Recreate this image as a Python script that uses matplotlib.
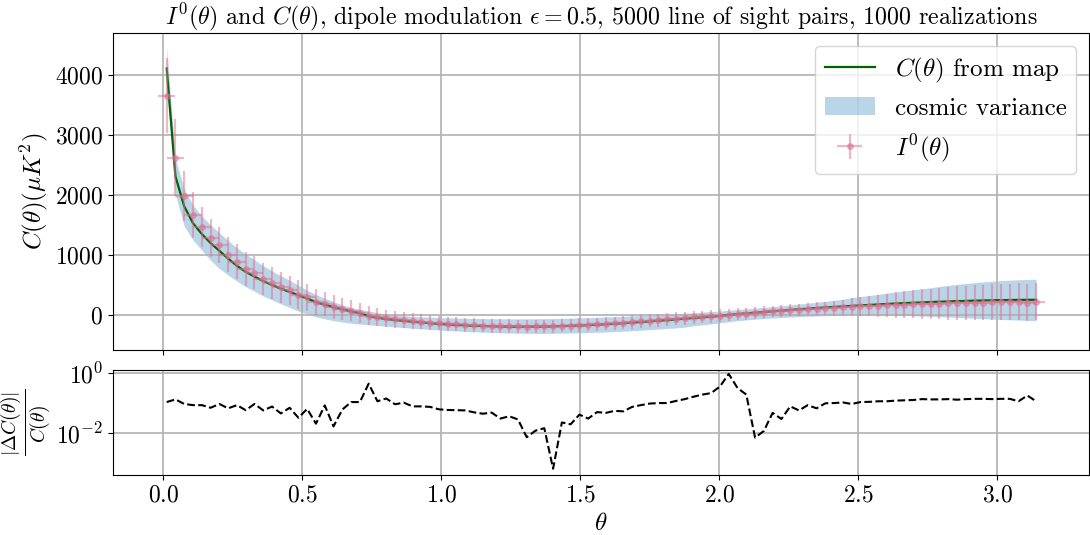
import numpy as np
import matplotlib
matplotlib.use("Agg")
import matplotlib.pyplot as plt
from matplotlib.ticker import NullLocator

plt.rcParams["font.family"] = "serif"
plt.rcParams["font.serif"] = ["cmr10"]
plt.rcParams["mathtext.fontset"] = "cm"
plt.rcParams["axes.formatter.use_mathtext"] = True

# angular bins (rad)
theta = np.linspace(0.012, 3.14, 100)

# C(theta) from map
c_map = [4110, 2310, 1810, 1530, 1350, 1200, 1070, 940, 820, 720,
         640, 565, 500, 440, 385, 330, 275, 215, 170, 130,
         95, 60, 30, -20, -45, -65, -82, -97, -111, -124,
         -136, -147, -157, -165, -172, -178, -183, -187, -190, -192,
         -194, -194, -193, -191, -188, -184, -180, -174, -168, -161,
         -153, -145, -136, -126, -116, -105, -94, -83, -72, -60,
         -49, -38, -27, -14, 2, 15, 27, 39, 50, 62,
         73, 84, 95, 105, 115, 125, 134, 143, 152, 160,
         168, 176, 184, 191, 198, 204, 210, 216, 221, 226,
         231, 235, 239, 242, 245, 248, 250, 252, 253, 253]

# I^0(theta) estimator, mean and spread over realizations
i0_mean = [3658, 2622, 1982, 1663, 1467, 1285, 1172, 1004, 891, 762,
           701, 598, 539, 460, 412, 341, 293, 220, 184, 132,
           101, 67, 33, -11, -40, -56, -74, -87, -102, -114,
           -126, -138, -148, -155, -162, -169, -175, -178, -184, -185,
           -188, -192.6, -190.6, -188.2, -187.9, -179.8, -176.4, -166.7, -162.8, -152.8,
           -145.7, -136.9, -128.7, -116.4, -105.9, -94.7, -84.4, -74.5, -63.4, -51.7,
           -40.9, -30.6, -21.1, -8.9, 0.09, 10.1, 21.7, 38.7, 49.4, 59.0,
           70.8, 77.4, 89.5, 95.9, 107.2, 112.5, 120.3, 127.7, 137.6, 142.4,
           149.2, 155.4, 162.5, 167.5, 173.1, 177.7, 181.0, 186.8, 191.2, 194.8,
           200.5, 202.6, 205.3, 207.9, 211.2, 213.0, 214.8, 222.5, 207.0, 223.4]
i0_err = [620, 640, 420, 380, 340, 310, 300, 290, 285, 280,
          275, 270, 265, 255, 245, 235, 225, 215, 205, 195,
          185, 175, 165, 158, 150, 144, 138, 133, 128, 124,
          120, 118, 117, 116, 115, 115, 114, 114, 113, 113,
          112, 112, 112, 112, 111, 111, 111, 111, 110, 110,
          110, 110, 110, 110, 110, 109, 109, 108, 108, 107,
          106, 105, 104, 103, 102, 101, 100, 99, 98, 97,
          97, 98, 100, 103, 107, 112, 120, 130, 142, 155,
          168, 182, 196, 210, 223, 235, 246, 255, 263, 271,
          278, 284, 289, 294, 298, 301, 303, 304, 305, 305]
theta_err = 0.0316

# cosmic variance band
cv_hi = [4450, 2600, 2100, 1830, 1650, 1500, 1370, 1240, 1120, 1015,
         920, 820, 735, 655, 580, 495, 415, 340, 280, 222,
         170, 125, 95, 68, 40, 18, 0, -12, -22, -30,
         -36, -42, -47, -51, -55, -58, -60, -62, -63, -64,
         -64, -63, -62, -60, -58, -55, -52, -48, -44, -39,
         -34, -28, -22, -15, -8, 0, 7, 15, 23, 31,
         40, 49, 58, 67, 80, 92, 104, 116, 128, 141,
         155, 168, 182, 197, 212, 228, 245, 262, 290, 308,
         325, 345, 365, 384, 402, 420, 437, 455, 478, 495,
         510, 525, 540, 552, 563, 573, 581, 588, 593, 597]
cv_lo = [3800, 2000, 1480, 1250, 1080, 910, 775, 665, 565, 470,
         395, 315, 250, 185, 125, 65, 15, -30, -65, -94,
         -118, -138, -152, -165, -175, -187, -198, -210, -220, -230,
         -240, -250, -258, -266, -273, -280, -286, -291, -296, -300,
         -303, -305, -306, -306, -305, -303, -300, -297, -293, -288,
         -283, -277, -270, -262, -254, -245, -235, -225, -214, -202,
         -180, -165, -148, -130, -112, -96, -82, -70, -60, -50,
         -42, -34, -27, -21, -16, -11, -7, -4, -2, 0,
         0, -1, -3, -6, -9, -13, -18, -23, -28, -34,
         -40, -47, -54, -61, -68, -74, -80, -85, -90, -94]

# relative difference |I0 - C| / C
rel_diff = [0.110, 0.135, 0.095, 0.087, 0.087, 0.071, 0.095, 0.068, 0.087, 0.059,
            0.095, 0.058, 0.078, 0.046, 0.071, 0.033, 0.065, 0.021, 0.085, 0.017,
            0.062, 0.110, 0.110, 0.45, 0.117, 0.145, 0.093, 0.105, 0.079, 0.079,
            0.076, 0.063, 0.060, 0.059, 0.058, 0.050, 0.045, 0.049, 0.031, 0.037,
            0.029, 0.0074, 0.0123, 0.0148, 0.00066, 0.023, 0.020, 0.042, 0.031, 0.051,
            0.048, 0.056, 0.054, 0.076, 0.087, 0.098, 0.102, 0.102, 0.120, 0.138,
            0.166, 0.195, 0.219, 0.363, 0.955, 0.324, 0.195, 0.0072, 0.012, 0.048,
            0.030, 0.079, 0.058, 0.087, 0.068, 0.100, 0.102, 0.107, 0.095, 0.110,
            0.112, 0.117, 0.117, 0.123, 0.126, 0.129, 0.138, 0.135, 0.135, 0.138,
            0.132, 0.138, 0.141, 0.141, 0.138, 0.141, 0.141, 0.117, 0.182, 0.117]

fig = plt.figure(figsize=(10.9, 5.35), dpi=100)
ax = fig.add_axes([0.1037, 0.3458, 0.8953, 0.5925])
ax2 = fig.add_axes([0.1037, 0.1121, 0.8953, 0.1963], sharex=ax)

ax.plot(theta, c_map, color="darkgreen", lw=1.6, label=r"$C(\theta)$ from map", zorder=3)
ax.fill_between(theta, cv_lo, cv_hi, color="C0", alpha=0.3, lw=0, label="cosmic variance")
ax.errorbar(theta, i0_mean, yerr=i0_err, xerr=theta_err, fmt="o", ms=4,
            color="palevioletred", alpha=0.5, elinewidth=1.6, label=r"$I^0(\theta)$", zorder=4)

ax.set_xlim(-0.181, 3.33)
ax.set_ylim(-583, 4700)
ax.set_yticks([0, 1000, 2000, 3000, 4000])
ax.set_ylabel(r"$C(\theta) (\mu K^2)$", fontsize=18)
ax.set_title(r"$I^0(\theta)$ and $C(\theta)$, dipole modulation $\epsilon = 0.5$, "
             r"5000 line of sight pairs, 1000 realizations", fontsize=17.2)
ax.grid(True, color="#b0b0b0", lw=1.2)
ax.tick_params(labelsize=17, labelbottom=False)
ax.legend(loc="upper right", fontsize=18)

ax2.semilogy(theta, rel_diff, "k--", lw=1.5)
ax2.set_ylim(10 ** -3.39, 10 ** 0.11)
ax2.set_yticks([1e-2, 1])
ax2.yaxis.set_minor_locator(NullLocator())
ax2.set_xticks([0.0, 0.5, 1.0, 1.5, 2.0, 2.5, 3.0])
ax2.set_xlabel(r"$\theta$", fontsize=18)
ax2.set_ylabel(r"$\frac{|\Delta C(\theta)|}{C(\theta)}$", fontsize=20)
ax2.yaxis.set_label_coords(-0.062, 0.5)
ax2.grid(True, color="#b0b0b0", lw=1.2)
ax2.tick_params(labelsize=17)

fig.savefig("out.png", dpi=100)
